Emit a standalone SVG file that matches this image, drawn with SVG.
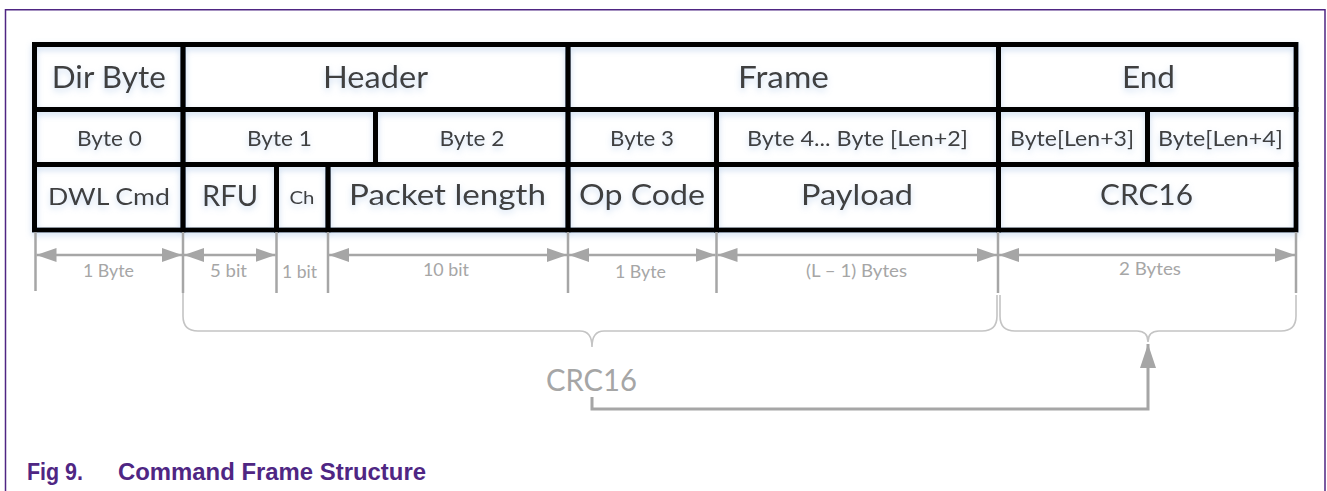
<svg xmlns="http://www.w3.org/2000/svg" width="1327" height="491" viewBox="0 0 1327 491">
<style>
  .cell { fill: none; stroke: #000; stroke-width: 5; }
  .txt { font-family: Lato, "Open Sans", "Liberation Sans", sans-serif; fill: #404040; text-anchor: middle; }
  .t1 { font-size: 30px; }
  .t2 { font-size: 22px; }
  .t3 { font-size: 29px; }
  .dim { font-family: Lato, "Open Sans", "Liberation Sans", sans-serif; font-size: 17px; fill: #a6a6a6; text-anchor: middle; }
  .tick { stroke: #a6a6a6; stroke-width: 2.5; fill: none; }
  .arr { stroke: #a6a6a6; stroke-width: 2.5; fill: none; marker-start: url(#ah); marker-end: url(#ah); }
  .brace { stroke: #c4c4c4; stroke-width: 1.6; fill: none; }
  .flow { stroke: #a6a6a6; stroke-width: 3; fill: none; }
  .frame { stroke: #4f2683; stroke-width: 1.5; fill: none; }
  .cap { font-family: "Liberation Sans", Arial, sans-serif; font-weight: bold; font-size: 23px; fill: #4f2683; }
</style>
<defs>
  <marker id="ah" viewBox="0 0 20 14" refX="20" refY="7" markerWidth="20" markerHeight="14" markerUnits="userSpaceOnUse" orient="auto-start-reverse">
    <path d="M0,0 L20,7 L0,14 Z" fill="#a6a6a6"/>
  </marker>
  <marker id="ahBig" viewBox="0 0 24 16" refX="24" refY="8" markerWidth="24" markerHeight="16" markerUnits="userSpaceOnUse" orient="auto">
    <path d="M0,0 L24,8 L0,16 Z" fill="#a6a6a6"/>
  </marker>
  <filter id="glow" x="-5%" y="-10%" width="110%" height="130%">
    <feGaussianBlur in="SourceAlpha" stdDeviation="3" result="b"/>
    <feOffset in="b" dy="3" result="o"/>
    <feFlood flood-color="#8fb3e0" flood-opacity="0.45"/>
    <feComposite in2="o" operator="in" result="s"/>
    <feMerge>
      <feMergeNode in="s"/>
      <feMergeNode in="SourceGraphic"/>
    </feMerge>
  </filter>
</defs>

<rect x="0" y="0" width="1327" height="491" fill="#ffffff"/>

<!-- page frame -->
<g id="page-frame">
  <path class="frame" d="M5.5,491 L5.5,9.75 L1325,9.75 L1325,491"/>
</g>

<!-- table cells -->
<g id="table" filter="url(#glow)">
  <g id="cell-dir-byte"><rect class="cell" x="34.5" y="44.5" width="148.5" height="65"/><text class="txt t1" x="108.75" y="87.5" textLength="114" lengthAdjust="spacingAndGlyphs">Dir Byte</text></g>
  <g id="cell-header"><rect class="cell" x="183" y="44.5" width="385" height="65"/><text class="txt t1" x="375.5" y="87.5" textLength="105" lengthAdjust="spacingAndGlyphs">Header</text></g>
  <g id="cell-frame"><rect class="cell" x="568" y="44.5" width="430.5" height="65"/><text class="txt t1" x="783.5" y="87.5" textLength="91" lengthAdjust="spacingAndGlyphs">Frame</text></g>
  <g id="cell-end"><rect class="cell" x="998.5" y="44.5" width="297.5" height="65"/><text class="txt t1" x="1148.5" y="87.5" textLength="53" lengthAdjust="spacingAndGlyphs">End</text></g>

  <g id="cell-byte0"><rect class="cell" x="34.5" y="109.5" width="148.5" height="55"/><text class="txt t2" x="109.5" y="146" textLength="65" lengthAdjust="spacingAndGlyphs">Byte 0</text></g>
  <g id="cell-byte1"><rect class="cell" x="183" y="109.5" width="192.5" height="55"/><text class="txt t2" x="279.5" y="146" textLength="65" lengthAdjust="spacingAndGlyphs">Byte 1</text></g>
  <g id="cell-byte2"><rect class="cell" x="375.5" y="109.5" width="192.5" height="55"/><text class="txt t2" x="472" y="146" textLength="65" lengthAdjust="spacingAndGlyphs">Byte 2</text></g>
  <g id="cell-byte3"><rect class="cell" x="568" y="109.5" width="148.5" height="55"/><text class="txt t2" x="642" y="146" textLength="64" lengthAdjust="spacingAndGlyphs">Byte 3</text></g>
  <g id="cell-byte4"><rect class="cell" x="716.5" y="109.5" width="282" height="55"/><text class="txt t2" x="857.5" y="146" textLength="221" lengthAdjust="spacingAndGlyphs">Byte 4... Byte [Len+2]</text></g>
  <g id="cell-byte-len3"><rect class="cell" x="998.5" y="109.5" width="149" height="55"/><text class="txt t2" x="1072" y="146" textLength="124" lengthAdjust="spacingAndGlyphs">Byte[Len+3]</text></g>
  <g id="cell-byte-len4"><rect class="cell" x="1147.5" y="109.5" width="148.5" height="55"/><text class="txt t2" x="1220.5" y="146" textLength="125" lengthAdjust="spacingAndGlyphs">Byte[Len+4]</text></g>

  <g id="cell-dwl-cmd"><rect class="cell" x="34.5" y="164.5" width="148.5" height="65.5"/><text class="txt" style="font-size:24px" x="109" y="205" textLength="122" lengthAdjust="spacingAndGlyphs">DWL Cmd</text></g>
  <g id="cell-rfu"><rect class="cell" x="183" y="164.5" width="93.5" height="65.5"/><text class="txt t3" x="230" y="205.5" textLength="56" lengthAdjust="spacingAndGlyphs">RFU</text></g>
  <g id="cell-ch"><rect class="cell" x="276.5" y="164.5" width="51.5" height="65.5"/><text class="txt" style="font-size:17px" x="302" y="204" textLength="25" lengthAdjust="spacingAndGlyphs">Ch</text></g>
  <g id="cell-packet-length"><rect class="cell" x="328" y="164.5" width="240" height="65.5"/><text class="txt t3" x="447.5" y="205" textLength="197" lengthAdjust="spacingAndGlyphs">Packet length</text></g>
  <g id="cell-op-code"><rect class="cell" x="568" y="164.5" width="148.5" height="65.5"/><text class="txt t3" x="642" y="205" textLength="126" lengthAdjust="spacingAndGlyphs">Op Code</text></g>
  <g id="cell-payload"><rect class="cell" x="716.5" y="164.5" width="282" height="65.5"/><text class="txt t3" x="857" y="205" textLength="112" lengthAdjust="spacingAndGlyphs">Payload</text></g>
  <g id="cell-crc16"><rect class="cell" x="998.5" y="164.5" width="297.5" height="65.5"/><text class="txt t3" x="1146.5" y="205" textLength="93" lengthAdjust="spacingAndGlyphs">CRC16</text></g>
</g>

<!-- connectors: dimension lines, braces, CRC flow -->
<g id="connectors">
  <path class="tick" d="M35.5,232 V291 M183,232 V293 M276.5,232 V293 M328,232 V293 M568,232 V293 M716.5,232 V293 M998,232 V293 M1296,232 V293"/>
  <line class="arr" x1="36.5" y1="255" x2="182" y2="255"/>
  <line class="arr" x1="184" y1="255" x2="275.5" y2="255"/>
  <line class="arr" x1="329" y1="255" x2="567" y2="255"/>
  <line class="arr" x1="569" y1="255" x2="715.5" y2="255"/>
  <line class="arr" x1="717.5" y1="255" x2="997" y2="255"/>
  <line class="arr" x1="999" y1="255" x2="1295" y2="255"/>

  <path class="brace" d="M183,293 L183,316 Q183,331 198,331 L580,331 Q592,331 592,347 Q592,331 604,331 L982,331 Q997,331 997,316 L997,295"/>
  <path class="brace" d="M1000,295 L1000,316 Q1000,331 1015,331 L1137,331 Q1148,331 1148,342 Q1148,331 1159,331 L1281,331 Q1296,331 1296,316 L1296,295"/>

  <path class="flow" d="M592,397 L592,409 L1148,409 L1148,344" marker-end="url(#ahBig)"/>
</g>

<!-- dimension labels -->
<g id="labels">
  <text class="dim" x="108.5" y="277" textLength="51" lengthAdjust="spacingAndGlyphs">1 Byte</text>
  <text class="dim" x="228.5" y="277" textLength="37" lengthAdjust="spacingAndGlyphs">5 bit</text>
  <text class="dim" x="299.5" y="278" textLength="35" lengthAdjust="spacingAndGlyphs">1 bit</text>
  <text class="dim" x="446" y="276" textLength="46" lengthAdjust="spacingAndGlyphs">10 bit</text>
  <text class="dim" x="640.5" y="278" textLength="51" lengthAdjust="spacingAndGlyphs">1 Byte</text>
  <text class="dim" x="856.5" y="277" textLength="101" lengthAdjust="spacingAndGlyphs">(L – 1) Bytes</text>
  <text class="dim" x="1150" y="275" textLength="62" lengthAdjust="spacingAndGlyphs">2 Bytes</text>
  <text class="dim" style="font-size:30px" x="591.5" y="391" textLength="91" lengthAdjust="spacingAndGlyphs">CRC16</text>
</g>

<!-- caption -->
<g id="caption">
  <text class="cap" x="27" y="480" textLength="56" lengthAdjust="spacingAndGlyphs">Fig 9.</text>
  <text class="cap" x="118" y="480" textLength="308" lengthAdjust="spacingAndGlyphs">Command Frame Structure</text>
</g>
</svg>
